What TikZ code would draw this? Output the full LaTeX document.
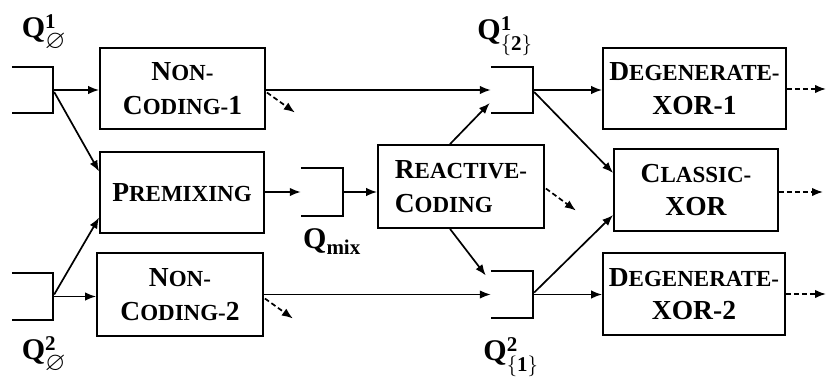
\documentclass[tikz,border=0pt]{standalone}
\usepackage{amssymb}
\usepackage{fontspec}
\setmainfont{Liberation Serif}
\usetikzlibrary{arrows.meta,calc}
\newcommand\SmC[1]{{\fontsize{23}{33.3}\selectfont #1}}
\newcommand\BigEmpty{\scalebox{1.25}{$\scriptstyle\varnothing$}}
\begin{document}
\begin{tikzpicture}[x=1pt,y=-1pt,
  box/.style={draw,line width=1.8pt,inner sep=0pt,align=center,
    font=\bfseries\fontsize{27.5}{33.3}\selectfont},
  queue/.style={inner sep=0pt},
  qline/.style={line width=1.8pt},
  arr/.style={-{Latex[length=11pt,width=8.5pt]},line width=1.7pt},
  dsh/.style={arr,dash pattern=on 5pt off 3pt},
  lab/.style={inner sep=0pt,font=\fontsize{30}{32}\selectfont}]
\useasboundingbox (0,0) rectangle (828,383);
% boxes
\node[box,minimum width=165,minimum height=81] (nc1) at (182.5,88.5) {N\SmC{ON-}\\C\SmC{ODING-}1};
\node[box,minimum width=164,minimum height=81] (pm) at (182,192.5) {P\SmC{REMIXING}};
\node[box,minimum width=166,minimum height=83] (nc2) at (180,294.5) {N\SmC{ON-}\\C\SmC{ODING-}2};
\node[box,minimum width=166,minimum height=83,align=left] (rc) at (461,186.5) {R\SmC{EACTIVE-}\\C\SmC{ODING}};
\node[box,minimum width=183,minimum height=81] (dx1) at (694.5,88.5) {D\SmC{EGENERATE-}\\XOR-1};
\node[box,minimum width=164,minimum height=82] (cx) at (696,190) {C\SmC{LASSIC-}\\XOR};
\node[box,minimum width=182,minimum height=82] (dx2) at (694,294) {D\SmC{EGENERATE-}\\XOR-2};
% queues
\node[queue,minimum width=41,minimum height=46] (q1) at (32.5,90) {};
\node[queue,minimum width=41,minimum height=47] (q2) at (32.5,296.5) {};
\node[queue,minimum width=42,minimum height=48] (qm) at (322,192) {};
\node[queue,minimum width=42,minimum height=46] (q12) at (512,90) {};
\node[queue,minimum width=42,minimum height=47] (q21) at (512,294.5) {};
\foreach \q in {q1,q2,qm,q12,q21}{
  \draw[qline] (\q.north west) -- (\q.north east) -- (\q.south east) -- (\q.south west);
}
% labels
\node[lab] (l1) at (44,33) {$\mathbf{Q}^{\mathbf{1}}_{\BigEmpty}$};
\node[lab] (l2) at (44,355) {$\mathbf{Q}^{\mathbf{2}}_{\BigEmpty}$};
\node[lab] (lm) at (332,242) {$\mathbf{Q}_{\mathbf{mix}}$};
\node[lab] (l12) at (505,36) {$\mathbf{Q}^{\mathbf{1}}_{\{\mathbf{2}\}}$};
\node[lab] (l21) at (511,357) {$\mathbf{Q}^{\mathbf{2}}_{\{\mathbf{1}\}}$};
% connectors
\draw[arr] (q1.east) -- (q1.east -| nc1.west);
\draw[arr] ($(q1.east)+(1,2)$) -- ($(pm.west)+(0,-21)$);
\draw[arr] (q2.east) -- (q2.east -| nc2.west);
\draw[arr] ($(q2.east)+(1,-2)$) -- ($(pm.west)+(0,25)$);
\draw[arr] (nc1.east |- q12.west) -- (q12.west);
\draw[dsh] ($(nc1.east)+(1,4)$) -- ++(28,20);
\draw[arr] (nc2.east |- q21.west) -- (q21.west);
\draw[dsh] ($(nc2.east)+(1,4)$) -- ++(28,20);
\draw[arr] (pm.east |- qm.west) -- (qm.west);
\draw[arr] (qm.east) -- (qm.east -| rc.west);
\draw[dsh] ($(rc.east)+(1,2)$) -- ++(30,22);
\draw[arr] ($(rc.north)+(-11,0)$) -- ($(q12.west)+(-1,13)$);
\draw[arr] ($(rc.south)+(-11,0)$) -- ($(q21.west)+(-5,-19)$);
\draw[arr] (q12.east) -- (q12.east -| dx1.west);
\draw[arr] ($(q12.east)+(1,2)$) -- ($(cx.west)+(0,-17)$);
\draw[arr] (q21.east) -- (q21.east -| dx2.west);
\draw[arr] ($(q21.east)+(1,-2)$) -- ($(cx.west)+(0,25)$);
\coordinate (o1) at (826,89);
\coordinate (o2) at (823,192);
\coordinate (o3) at (826,294);
\draw[dsh] (dx1.east |- o1) -- (o1);
\draw[dsh] (cx.east |- o2) -- (o2);
\draw[dsh] (dx2.east |- o3) -- (o3);
\end{tikzpicture}
\end{document}
